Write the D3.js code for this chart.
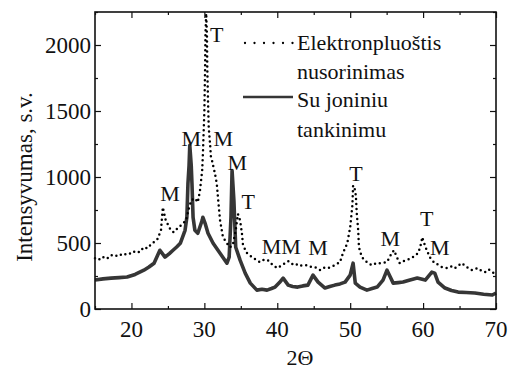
<!DOCTYPE html>
<html><head><meta charset="utf-8">
<script src="https://cdn.jsdelivr.net/npm/d3@7"></script>
<style>body{margin:0;background:#fff}svg{display:block}</style>
</head><body><svg id="c" width="511" height="369" font-family="'Liberation Serif','Times New Roman',serif"></svg>
<script>
// Dotted series: Elektronpluoštis nusorinimas (2Θ, intensity)
const dotX = [15.0,15.5,16.0,16.6,17.2,17.8,18.3,18.9,19.4,20.0,20.5,21.1,21.7,22.2,22.8,23.5,24.05,24.3,24.7,25.4,25.8,26.3,26.8,27.5,27.8,28.2,28.7,29.1,29.4,29.7,29.8,30.0,30.1,30.15,30.25,30.35,30.4,30.5,30.6,30.8,30.9,31.05,31.2,31.45,31.7,31.9,32.15,32.55,33.1,33.5,33.9,34.3,34.6,34.9,35.15,35.3,35.85,36.7,37.2,37.6,38.2,38.7,39.4,40.0,40.65,41.5,42.0,42.4,43.0,43.4,44.2,44.7,45.2,45.9,46.5,47.0,47.9,48.6,49.0,49.6,50.0,50.3,50.4,50.7,50.8,50.9,51.1,51.2,51.6,52.3,52.7,53.1,53.6,54.1,55.05,55.7,56.0,56.4,56.8,57.3,57.8,58.6,59.3,59.6,59.9,60.0,60.5,61.0,61.6,62.1,62.6,63.4,64.0,64.4,65.3,66.0,66.7,67.5,68.0,68.5,69.0,69.5,70.0];
const dotY = [385,372,395,380,408,398,415,405,423,418,440,430,468,460,498,521,596,770,672,596,581,610,634,672,747,823,838,808,898,1049,1178,1502,1827,2084,2240,2084,1827,1578,1374,1238,1148,1125,1087,1027,951,823,672,544,498,468,483,596,720,672,574,483,423,385,370,355,375,370,332,310,332,362,340,347,325,332,332,318,317,294,315,310,332,355,423,498,619,785,936,898,838,725,596,468,393,355,340,332,350,347,355,423,445,393,347,362,370,393,423,468,544,521,445,385,347,335,317,310,325,310,347,317,294,310,290,279,300,279,264];
// Solid series: Su joniniu tankinimu
const solX = [15.0,16.1,17.2,18.3,19.4,20.5,21.7,22.4,23.1,23.9,24.6,25.2,25.7,26.2,26.7,27.35,27.6,27.75,27.9,28.0,28.2,28.3,28.45,28.7,29.1,29.7,29.8,30.1,30.5,31.2,32.15,33.1,33.4,33.65,33.8,34.05,34.3,34.9,35.6,36.3,37.2,37.9,38.6,39.2,39.7,40.3,40.8,41.5,42.1,42.8,43.5,44.2,44.9,45.6,46.55,47.2,47.9,48.6,49.3,50.0,50.4,50.7,51.35,52.3,53.0,53.7,54.5,55.05,55.5,55.9,56.6,57.25,58.2,59.2,60.3,61.2,61.6,62.05,63.0,63.9,64.8,65.9,67.1,68.3,69.5,70.0];
const solY = [219,228,234,238,242,262,294,318,347,445,393,420,445,470,498,596,695,951,1087,1240,1087,951,695,596,574,672,695,649,574,498,423,347,393,695,1049,823,468,370,272,196,143,150,143,155,166,200,234,181,170,166,175,181,257,204,159,170,181,190,204,257,347,196,166,143,155,166,219,294,242,196,200,204,220,234,219,279,272,204,159,140,128,125,121,112,106,121];
const xTicks = [20,30,40,50,60,70];
const yTicks = [0,500,1000,1500,2000];
const peakLabels = ["T","M","M","M","M","T","M","M","M","T","M","T","M"];
const peakX = [31.7,25.3,28.2,32.6,34.5,36.0,39.2,41.9,45.6,50.8,55.5,60.5,62.3];
const peakY = [2085,876,1292,1292,1110,816,476,476,468,1027,536,687,468];
const legendNames = ["Elektronpluoštis","nusorinimas","Su joniniu","tankinimu"];

const svg = d3.select("#c");
const L=95,R=496,T=12,B=309;
const x = d3.scaleLinear().domain([15,70]).range([L,R]);
const y = d3.scaleLinear().domain([0,2250]).range([B,T]);
const FS = 23;

const solidData = solX.map((v,i)=>[v,solY[i]]);
const dotData = dotX.map((v,i)=>[v,dotY[i]]);
const line = d3.line().x(d=>x(d[0])).y(d=>y(d[1]));
svg.append("path").attr("d",line(solidData)).attr("fill","none").attr("stroke","#363636").attr("stroke-width",3.6).attr("stroke-linejoin","round");
svg.append("path").attr("d",line(dotData)).attr("fill","none").attr("stroke","#000").attr("stroke-width",2.5).attr("stroke-linecap","round").attr("stroke-dasharray","0,5");

// axes (ticks inward on all four sides)
const minorX = d3.range(15,70.01,5), minorY = d3.range(0,2250.1,250);
const ax = [
  [d3.axisTop(x), `translate(0,${B})`, xTicks, minorX],
  [d3.axisBottom(x), `translate(0,${T})`, xTicks, minorX],
  [d3.axisRight(y), `translate(${L},0)`, yTicks, minorY],
  [d3.axisLeft(y), `translate(${R},0)`, yTicks, minorY]
];
ax.forEach(([gen,tr,maj,min])=>{
  const g = svg.append("g").attr("transform",tr);
  g.call(gen.tickValues(min.filter(v=>!maj.includes(v))).tickSize(3).tickFormat("").tickSizeOuter(0));
  g.select(".domain").remove();
  g.selectAll("line").attr("stroke","#111").attr("stroke-width",1.2);
  const g2 = svg.append("g").attr("transform",tr);
  g2.call(gen.tickValues(maj).tickSize(6).tickFormat("").tickSizeOuter(0));
  g2.select(".domain").remove();
  g2.selectAll("line").attr("stroke","#111").attr("stroke-width",1.2);
});
svg.append("rect").attr("x",L).attr("y",T).attr("width",R-L).attr("height",B-T).attr("fill","none").attr("stroke","#111").attr("stroke-width",1.6);

const txt = s => s.attr("fill","#111").attr("font-family","'Liberation Serif','Times New Roman',serif");
txt(svg.selectAll(".xl").data(xTicks).enter().append("text").attr("x",d=>x(d)).attr("y",337).attr("text-anchor","middle").attr("font-size",FS).text(d=>d));
txt(svg.selectAll(".yl").data(yTicks).enter().append("text").attr("x",91).attr("y",d=>y(d)+8).attr("text-anchor","end").attr("font-size",FS).text(d=>d));

txt(svg.append("text").attr("x",300).attr("y",365).attr("text-anchor","middle").attr("font-size",22).text("2Θ"));
txt(svg.append("text").attr("transform","translate(32,177) rotate(-90)").attr("text-anchor","middle").attr("font-size",23).text("Intensyvumas, s.v."));

txt(svg.selectAll(".pk").data(peakLabels).enter().append("text").attr("x",(d,i)=>x(peakX[i])).attr("y",(d,i)=>y(peakY[i])+8).attr("text-anchor","middle").attr("font-size",22).text(d=>d));

svg.append("line").attr("x1",245).attr("x2",293).attr("y1",43).attr("y2",43).attr("stroke","#000").attr("stroke-width",2.3).attr("stroke-linecap","round").attr("stroke-dasharray","0,9.5");
svg.append("line").attr("x1",243).attr("x2",293).attr("y1",97).attr("y2",97).attr("stroke","#363636").attr("stroke-width",2.5);
const ly = [50,79,107,137];
legendNames.forEach((t,i)=>txt(svg.append("text").attr("x",297).attr("y",ly[i]).attr("font-size",22).text(t)));
</script></body></html>
